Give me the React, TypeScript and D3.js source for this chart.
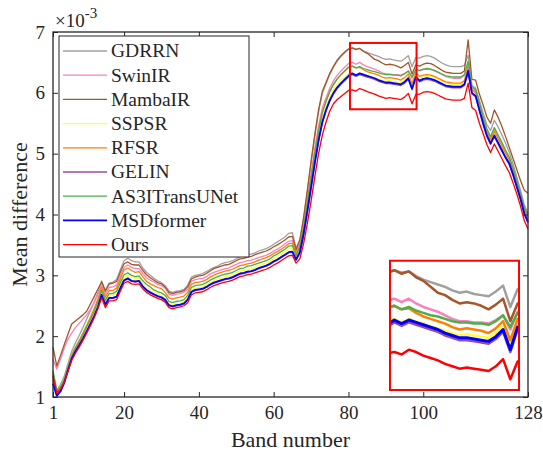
import React, { useRef, useEffect } from 'react';
import * as d3 from 'd3';

// band index (x axis)
const bands = d3.range(1, 129);

// mean difference per band, units of 1e-3
const gdrrn = [
  1.42, 1.11, 1.21, 1.34, 1.55, 1.75, 1.89, 2.01, 2.14, 2.28,
  2.42, 2.56, 2.72, 2.91, 2.75, 2.87, 2.89, 2.93, 3.09, 3.24,
  3.28, 3.24, 3.22, 3.22, 3.12, 3.05, 3.0, 2.95, 2.91, 2.88,
  2.83, 2.74, 2.72, 2.74, 2.75, 2.77, 2.84, 2.97, 3.0, 3.01,
  3.03, 3.06, 3.1, 3.13, 3.15, 3.19, 3.21, 3.22, 3.24, 3.27,
  3.31, 3.32, 3.34, 3.35, 3.37, 3.4, 3.42, 3.44, 3.47, 3.51,
  3.55, 3.59, 3.63, 3.69, 3.7, 3.45, 3.58, 3.93, 4.37, 4.84,
  5.28, 5.68, 5.99, 6.15, 6.3, 6.42, 6.52, 6.6, 6.66, 6.72,
  6.74, 6.72, 6.73, 6.69, 6.66, 6.64, 6.62, 6.6, 6.57, 6.55,
  6.56, 6.54, 6.53, 6.52, 6.56, 6.61, 6.43, 6.58, 6.57, 6.6,
  6.61, 6.6, 6.57, 6.53, 6.49, 6.46, 6.44, 6.43, 6.43, 6.43,
  6.45, 6.62, 6.12, 6.08, 5.88, 5.67, 5.48, 5.38, 5.55, 5.44,
  5.31, 5.17, 5.02, 4.83, 4.62, 4.4, 4.16, 4.02,
];
const swinir = [
  1.62, 1.46, 1.62, 1.8, 1.95, 2.05, 2.14, 2.21, 2.28, 2.35,
  2.44, 2.55, 2.68, 2.84, 2.69, 2.8, 2.81, 2.84, 2.99, 3.13,
  3.17, 3.13, 3.11, 3.11, 3.03, 2.96, 2.92, 2.89, 2.85, 2.83,
  2.79, 2.69, 2.67, 2.69, 2.7, 2.72, 2.77, 2.9, 2.93, 2.94,
  2.95, 2.98, 3.02, 3.05, 3.07, 3.09, 3.11, 3.12, 3.15, 3.18,
  3.21, 3.22, 3.24, 3.25, 3.27, 3.29, 3.31, 3.33, 3.36, 3.4,
  3.43, 3.47, 3.52, 3.56, 3.57, 3.38, 3.52, 3.85, 4.25, 4.68,
  5.1, 5.46, 5.75, 5.92, 6.08, 6.2, 6.29, 6.36, 6.42, 6.48,
  6.5, 6.47, 6.5, 6.46, 6.43, 6.41, 6.39, 6.36, 6.33, 6.31,
  6.31, 6.3, 6.3, 6.29, 6.32, 6.36, 6.24, 6.39, 6.36, 6.38,
  6.39, 6.38, 6.36, 6.33, 6.3, 6.27, 6.25, 6.24, 6.24, 6.24,
  6.28, 6.46, 6.08, 6.03, 5.81, 5.59, 5.39, 5.26, 5.41, 5.29,
  5.17, 5.04, 4.93, 4.75, 4.55, 4.35, 4.12, 4.0,
];
const mambair = [
  1.82, 1.51, 1.68, 1.86, 2.03, 2.2, 2.25, 2.3, 2.35, 2.41,
  2.53, 2.65, 2.77, 2.89, 2.74, 2.86, 2.87, 2.9, 3.05, 3.19,
  3.22, 3.18, 3.17, 3.17, 3.08, 3.01, 2.96, 2.92, 2.88, 2.86,
  2.81, 2.72, 2.7, 2.72, 2.73, 2.75, 2.81, 2.94, 2.97, 2.99,
  3.0, 3.03, 3.07, 3.11, 3.13, 3.15, 3.17, 3.18, 3.21, 3.24,
  3.27, 3.28, 3.3, 3.31, 3.34, 3.36, 3.38, 3.4, 3.43, 3.47,
  3.5, 3.54, 3.58, 3.63, 3.64, 3.42, 3.58, 3.95, 4.4, 4.88,
  5.32, 5.72, 6.02, 6.17, 6.32, 6.44, 6.54, 6.61, 6.67, 6.72,
  6.74, 6.71, 6.73, 6.68, 6.65, 6.6, 6.55, 6.53, 6.49, 6.46,
  6.47, 6.46, 6.44, 6.41, 6.45, 6.5, 6.31, 6.46, 6.44, 6.47,
  6.49, 6.48, 6.45, 6.41, 6.37, 6.34, 6.33, 6.32, 6.32, 6.32,
  6.36, 6.87, 6.22, 6.21, 5.98, 5.8, 5.6, 5.5, 5.72, 5.6,
  5.45, 5.28, 5.1, 4.92, 4.74, 4.56, 4.4, 4.35,
];
const sspsr = [
  1.38, 1.09, 1.15, 1.27, 1.46, 1.65, 1.78, 1.88, 1.99, 2.11,
  2.25, 2.38, 2.53, 2.72, 2.56, 2.67, 2.67, 2.69, 2.84, 2.97,
  3.0, 2.96, 2.95, 2.96, 2.86, 2.8, 2.76, 2.73, 2.7, 2.66,
  2.62, 2.53, 2.51, 2.53, 2.54, 2.56, 2.63, 2.76, 2.79, 2.8,
  2.81, 2.84, 2.88, 2.91, 2.94, 2.96, 2.98, 2.99, 3.01, 3.04,
  3.07, 3.08, 3.1, 3.11, 3.13, 3.16, 3.18, 3.2, 3.23, 3.27,
  3.31, 3.35, 3.39, 3.43, 3.44, 3.29, 3.42, 3.73, 4.1, 4.51,
  4.91, 5.28, 5.58, 5.77, 5.93, 6.05, 6.14, 6.21, 6.26, 6.31,
  6.33, 6.3, 6.33, 6.31, 6.29, 6.27, 6.25, 6.23, 6.21, 6.19,
  6.2, 6.19, 6.18, 6.17, 6.21, 6.27, 6.1, 6.28, 6.24, 6.27,
  6.28, 6.27, 6.25, 6.22, 6.19, 6.16, 6.15, 6.14, 6.14, 6.14,
  6.18, 6.38, 6.03, 5.98, 5.76, 5.54, 5.34, 5.21, 5.35, 5.23,
  5.11, 4.99, 4.88, 4.7, 4.5, 4.3, 4.06, 3.92,
];
const rfsr = [
  1.39, 1.09, 1.16, 1.29, 1.49, 1.69, 1.82, 1.93, 2.05, 2.18,
  2.31, 2.45, 2.61, 2.8, 2.64, 2.75, 2.75, 2.79, 2.94, 3.09,
  3.12, 3.08, 3.05, 3.06, 2.98, 2.9, 2.86, 2.83, 2.8, 2.78,
  2.72, 2.63, 2.61, 2.63, 2.64, 2.66, 2.72, 2.85, 2.88, 2.89,
  2.9, 2.93, 2.97, 3.0, 3.03, 3.05, 3.07, 3.08, 3.1, 3.13,
  3.16, 3.17, 3.19, 3.2, 3.22, 3.25, 3.27, 3.29, 3.32, 3.36,
  3.39, 3.43, 3.47, 3.52, 3.53, 3.35, 3.48, 3.8, 4.19, 4.61,
  5.02, 5.38, 5.68, 5.86, 6.02, 6.14, 6.23, 6.3, 6.36, 6.42,
  6.44, 6.41, 6.42, 6.38, 6.35, 6.33, 6.31, 6.29, 6.26, 6.24,
  6.25, 6.24, 6.23, 6.21, 6.25, 6.31, 6.15, 6.33, 6.27, 6.29,
  6.3, 6.29, 6.27, 6.24, 6.21, 6.18, 6.17, 6.16, 6.16, 6.16,
  6.2, 6.42, 6.05, 6.0, 5.78, 5.56, 5.36, 5.23, 5.37, 5.25,
  5.13, 5.01, 4.9, 4.72, 4.52, 4.32, 4.08, 3.94,
];
const gelin = [
  1.29, 1.04, 1.11, 1.24, 1.43, 1.62, 1.74, 1.84, 1.95, 2.07,
  2.19, 2.32, 2.47, 2.67, 2.51, 2.62, 2.62, 2.64, 2.78, 2.91,
  2.94, 2.9, 2.89, 2.9, 2.81, 2.75, 2.71, 2.68, 2.65, 2.63,
  2.59, 2.5, 2.48, 2.5, 2.51, 2.53, 2.59, 2.72, 2.75, 2.76,
  2.77, 2.8, 2.84, 2.87, 2.89, 2.91, 2.93, 2.94, 2.96, 2.99,
  3.02, 3.03, 3.05, 3.06, 3.08, 3.11, 3.13, 3.15, 3.18, 3.22,
  3.25, 3.29, 3.33, 3.37, 3.38, 3.25, 3.36, 3.66, 4.03, 4.43,
  4.83, 5.2, 5.5, 5.7, 5.86, 5.98, 6.07, 6.14, 6.2, 6.26,
  6.3, 6.27, 6.3, 6.28, 6.26, 6.24, 6.22, 6.19, 6.17, 6.15,
  6.15, 6.14, 6.13, 6.12, 6.16, 6.22, 6.05, 6.24, 6.18, 6.21,
  6.22, 6.21, 6.19, 6.16, 6.13, 6.1, 6.09, 6.08, 6.08, 6.08,
  6.12, 6.33, 5.98, 5.93, 5.7, 5.48, 5.28, 5.15, 5.28, 5.16,
  5.04, 4.92, 4.82, 4.64, 4.44, 4.24, 4.0, 3.86,
];
const as3itransunet = [
  1.43, 1.1, 1.16, 1.28, 1.47, 1.66, 1.79, 1.9, 2.02, 2.15,
  2.27, 2.41, 2.56, 2.75, 2.59, 2.7, 2.7, 2.74, 2.88, 3.01,
  3.04, 3.0, 2.98, 2.99, 2.91, 2.85, 2.81, 2.76, 2.73, 2.71,
  2.67, 2.57, 2.55, 2.57, 2.58, 2.6, 2.67, 2.8, 2.83, 2.84,
  2.85, 2.88, 2.92, 2.95, 2.98, 3.0, 3.02, 3.03, 3.05, 3.08,
  3.11, 3.12, 3.15, 3.16, 3.18, 3.2, 3.22, 3.24, 3.27, 3.32,
  3.35, 3.39, 3.43, 3.48, 3.49, 3.32, 3.46, 3.78, 4.17, 4.59,
  5.0, 5.37, 5.67, 5.86, 6.02, 6.14, 6.23, 6.3, 6.36, 6.42,
  6.44, 6.41, 6.43, 6.4, 6.38, 6.36, 6.35, 6.33, 6.31, 6.3,
  6.3, 6.29, 6.29, 6.28, 6.31, 6.36, 6.26, 6.38, 6.37, 6.39,
  6.4, 6.39, 6.37, 6.34, 6.31, 6.28, 6.27, 6.26, 6.26, 6.26,
  6.3, 6.52, 6.1, 6.05, 5.83, 5.61, 5.41, 5.28, 5.43, 5.31,
  5.19, 5.06, 4.94, 4.76, 4.56, 4.35, 4.12, 3.99,
];
const msdformer = [
  1.22, 1.02, 1.09, 1.23, 1.44, 1.63, 1.75, 1.85, 1.96, 2.08,
  2.2, 2.33, 2.48, 2.68, 2.52, 2.63, 2.63, 2.65, 2.79, 2.92,
  2.95, 2.91, 2.9, 2.91, 2.82, 2.76, 2.72, 2.69, 2.66, 2.64,
  2.6, 2.51, 2.49, 2.51, 2.52, 2.54, 2.6, 2.73, 2.76, 2.77,
  2.78, 2.81, 2.85, 2.88, 2.9, 2.92, 2.94, 2.95, 2.97, 3.0,
  3.03, 3.04, 3.06, 3.07, 3.09, 3.12, 3.14, 3.16, 3.19, 3.23,
  3.26, 3.3, 3.34, 3.38, 3.39, 3.26, 3.38, 3.68, 4.05, 4.45,
  4.85, 5.22, 5.52, 5.72, 5.88, 6.0, 6.09, 6.16, 6.22, 6.28,
  6.32, 6.29, 6.32, 6.3, 6.28, 6.26, 6.24, 6.21, 6.19, 6.17,
  6.17, 6.16, 6.15, 6.14, 6.18, 6.24, 6.07, 6.26, 6.2, 6.23,
  6.24, 6.23, 6.21, 6.18, 6.15, 6.12, 6.11, 6.1, 6.1, 6.1,
  6.14, 6.36, 6.0, 5.95, 5.72, 5.5, 5.3, 5.17, 5.3, 5.18,
  5.06, 4.94, 4.84, 4.66, 4.46, 4.26, 4.02, 3.88,
];
const ours = [
  1.35, 1.07, 1.13, 1.24, 1.42, 1.6, 1.72, 1.82, 1.93, 2.05,
  2.17, 2.3, 2.45, 2.63, 2.47, 2.58, 2.58, 2.6, 2.74, 2.87,
  2.9, 2.86, 2.85, 2.86, 2.78, 2.72, 2.68, 2.65, 2.62, 2.6,
  2.56, 2.47, 2.45, 2.47, 2.48, 2.5, 2.55, 2.68, 2.71, 2.72,
  2.73, 2.76, 2.8, 2.83, 2.85, 2.87, 2.89, 2.9, 2.92, 2.95,
  2.98, 2.99, 3.01, 3.02, 3.04, 3.06, 3.08, 3.1, 3.13, 3.17,
  3.2, 3.24, 3.28, 3.32, 3.33, 3.2, 3.27, 3.52, 3.85, 4.22,
  4.62, 5.0, 5.3, 5.52, 5.7, 5.82, 5.89, 5.94, 5.99, 6.04,
  6.05, 6.03, 6.07, 6.05, 6.02, 6.0, 5.98, 5.95, 5.93, 5.91,
  5.92, 5.91, 5.9, 5.89, 5.93, 5.99, 5.82, 5.97, 5.98, 6.01,
  6.02, 6.01, 5.99, 5.96, 5.93, 5.9, 5.89, 5.88, 5.88, 5.88,
  5.91, 6.16, 5.76, 5.71, 5.5, 5.33, 5.15, 5.02, 5.16, 5.04,
  4.92, 4.8, 4.69, 4.52, 4.34, 4.14, 3.9, 3.76,
];

const seriesNames = ['GDRRN', 'SwinIR', 'MambaIR', 'SSPSR', 'RFSR', 'GELIN', 'AS3ITransUNet', 'MSDformer', 'Ours'];
const seriesValues = [gdrrn, swinir, mambair, sspsr, rfsr, gelin, as3itransunet, msdformer, ours];
const seriesColors = ['#a0a0a0', '#f781bf', '#a65628', '#ffff33', '#ff7f00', '#984ea3', '#4daf4a', '#0000ff', '#ff0000'];

const xTicks = [1, 20, 40, 60, 80, 100, 128];
const yTicks = [1, 2, 3, 4, 5, 6, 7];

// zoomed window (data units) and where the magnified copy sits (data units)
const zoomBands = [80.4, 98.2];
const zoomValues = [5.73, 6.82];
const insetBands = [91.1, 125.6];
const insetValues = [1.115, 3.24];

export default function App() {
  const svgRef = useRef(null);

  useEffect(() => {
    const w = 543;
    const h = 454;
    const m = { left: 53, right: 15, top: 32, bottom: 57 };
    const font = '"Liberation Serif", "Times New Roman", Times, serif';
    const ink = '#262626';

    const svg = d3.select(svgRef.current);
    svg.selectAll('*').remove();
    svg.attr('width', w).attr('height', h).style('font-family', font);

    svg.append('rect').attr('width', w).attr('height', h).attr('fill', '#fff');

    const x = d3.scaleLinear().domain([1, 128]).range([m.left, w - m.right]);
    const y = d3.scaleLinear().domain([1, 7]).range([h - m.bottom, m.top]);

    const line = d3
      .line<number>()
      .x((d, i) => x(bands[i]))
      .y((d) => y(d));

    // series
    const plot = svg.append('g');
    seriesValues.forEach((vals, k) => {
      plot
        .append('path')
        .attr('d', line(vals))
        .attr('fill', 'none')
        .attr('stroke', seriesColors[k])
        .attr('stroke-width', k === 7 ? 1.8 : 1.3)
        .attr('stroke-linejoin', 'round');
    });

    // axes, ticks pointing inward
    const styleAxis = (g) => {
      g.select('.domain').remove();
      g.attr('font-family', font).attr('font-size', 19);
      g.selectAll('line').attr('stroke', ink).attr('stroke-width', 1);
      g.selectAll('text').attr('fill', ink);
    };
    svg
      .append('g')
      .attr('transform', `translate(0,${y(1)})`)
      .call(d3.axisBottom(x).tickValues(xTicks).tickSizeInner(-5).tickSizeOuter(0).tickPadding(9).tickFormat(d3.format('d')))
      .call(styleAxis);
    svg
      .append('g')
      .attr('transform', `translate(0,${y(7)})`)
      .call(d3.axisTop(x).tickValues(xTicks).tickSizeInner(-5).tickSizeOuter(0).tickFormat(() => ''))
      .call(styleAxis);
    svg
      .append('g')
      .attr('transform', `translate(${x(1)},0)`)
      .call(d3.axisLeft(y).tickValues(yTicks).tickSizeInner(-5).tickSizeOuter(0).tickPadding(8).tickFormat(d3.format('d')))
      .call(styleAxis);
    svg
      .append('g')
      .attr('transform', `translate(${x(128)},0)`)
      .call(d3.axisRight(y).tickValues(yTicks).tickSizeInner(-5).tickSizeOuter(0).tickFormat(() => ''))
      .call(styleAxis);

    svg
      .append('rect')
      .attr('x', x(1))
      .attr('y', y(7))
      .attr('width', x(128) - x(1))
      .attr('height', y(1) - y(7))
      .attr('fill', 'none')
      .attr('stroke', ink)
      .attr('stroke-width', 1.3);

    // exponent
    const expo = svg.append('text').attr('x', x(1) + 2).attr('y', 27).attr('fill', ink).attr('font-size', 19);
    expo.append('tspan').text('×10');
    expo.append('tspan').attr('font-size', 15).attr('dy', -9).text('-3');

    // axis labels
    svg
      .append('text')
      .attr('x', (x(1) + x(128)) / 2)
      .attr('y', 447)
      .attr('text-anchor', 'middle')
      .attr('font-size', 22)
      .attr('fill', ink)
      .text('Band number');
    svg
      .append('text')
      .attr('transform', `translate(27,${(y(1) + y(7)) / 2}) rotate(-90)`)
      .attr('text-anchor', 'middle')
      .attr('font-size', 22)
      .attr('fill', ink)
      .text('Mean difference');

    // zoom window marker
    svg
      .append('rect')
      .attr('x', x(zoomBands[0]))
      .attr('y', y(zoomValues[1]))
      .attr('width', x(zoomBands[1]) - x(zoomBands[0]))
      .attr('height', y(zoomValues[0]) - y(zoomValues[1]))
      .attr('fill', 'none')
      .attr('stroke', '#ff0000')
      .attr('stroke-width', 2);

    // magnified inset
    const ix = d3.scaleLinear().domain(zoomBands).range([x(insetBands[0]), x(insetBands[1])]);
    const iy = d3.scaleLinear().domain(zoomValues).range([y(insetValues[0]), y(insetValues[1])]);
    svg
      .append('clipPath')
      .attr('id', 'inset-clip')
      .append('rect')
      .attr('x', ix(zoomBands[0]))
      .attr('y', iy(zoomValues[1]))
      .attr('width', ix(zoomBands[1]) - ix(zoomBands[0]))
      .attr('height', iy(zoomValues[0]) - iy(zoomValues[1]));
    const insetLine = d3
      .line<number>()
      .x((d, i) => ix(bands[i]))
      .y((d) => iy(d));
    const inset = svg.append('g').attr('clip-path', 'url(#inset-clip)');
    seriesValues.forEach((vals, k) => {
      inset
        .append('path')
        .attr('d', insetLine(vals))
        .attr('fill', 'none')
        .attr('stroke', seriesColors[k])
        .attr('stroke-width', k === 7 ? 3 : 2.5)
        .attr('stroke-linejoin', 'round');
    });
    svg
      .append('rect')
      .attr('x', ix(zoomBands[0]))
      .attr('y', iy(zoomValues[1]))
      .attr('width', ix(zoomBands[1]) - ix(zoomBands[0]))
      .attr('height', iy(zoomValues[0]) - iy(zoomValues[1]))
      .attr('fill', 'none')
      .attr('stroke', '#ff0000')
      .attr('stroke-width', 2);

    // legend
    const lg = svg.append('g').attr('transform', 'translate(59,36)');
    lg.append('rect')
      .attr('width', 190)
      .attr('height', 221)
      .attr('fill', '#fff')
      .attr('stroke', ink)
      .attr('stroke-width', 1);
    seriesNames.forEach((name, k) => {
      const cy = 15 + k * 24.2;
      lg.append('line')
        .attr('x1', 4)
        .attr('x2', 48)
        .attr('y1', cy)
        .attr('y2', cy)
        .attr('stroke', seriesColors[k])
        .attr('stroke-width', k === 7 ? 1.8 : 1.3);
      lg.append('text')
        .attr('x', 52)
        .attr('y', cy)
        .attr('dy', '0.33em')
        .attr('font-size', 19.5)
        .attr('fill', ink)
        .text(name);
    });
  }, []);

  return <svg ref={svgRef} style={{ position: 'absolute', left: 0, top: 0, display: 'block' }}></svg>;
}
